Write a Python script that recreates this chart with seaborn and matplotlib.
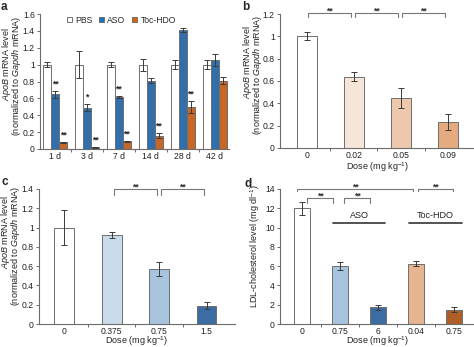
import numpy as np
import pandas as pd
import matplotlib
matplotlib.use("Agg")
import matplotlib.pyplot as plt
import seaborn as sns
from matplotlib.ticker import FuncFormatter, FixedLocator, MultipleLocator
from matplotlib.patches import Patch

# ---------------- data ----------------
days = ["1 d", "3 d", "7 d", "14 d", "28 d", "42 d"]
a_series = ["PBS", "ASO", "Toc-HDO"]
a_pbs = [1.0, 1.0, 1.0, 1.0, 1.0, 1.0]
a_pbs_err = [0.03, 0.16, 0.03, 0.07, 0.05, 0.05]
a_aso = [0.65, 0.49, 0.62, 0.81, 1.41, 1.05]
a_aso_err = [0.04, 0.04, 0.01, 0.03, 0.02, 0.07]
a_toc = [0.08, 0.02, 0.09, 0.16, 0.50, 0.81]
a_toc_err = [0.005, 0.005, 0.005, 0.03, 0.07, 0.04]
a_aso_stars = ["**", "*", "**", "", "", ""]
a_toc_stars = ["**", "**", "**", "**", "**", ""]

b_doses = ["0", "0.02", "0.05", "0.09"]
b_vals = [1.0, 0.64, 0.445, 0.235]
b_err = [0.035, 0.04, 0.09, 0.07]

c_doses = ["0", "0.375", "0.75", "1.5"]
c_vals = [1.0, 0.92, 0.57, 0.19]
c_err = [0.185, 0.03, 0.07, 0.035]

d_groups = ["Saline", "ASO 0.75", "ASO 6", "Toc-HDO 0.04", "Toc-HDO 0.75"]
d_ticklabels = ["0", "0.75", "6", "0.04", "0.75"]
d_vals = [12.0, 6.0, 1.75, 6.25, 1.5]
d_err = [0.7, 0.4, 0.25, 0.25, 0.3]

# ---------------- style ----------------
sns.set_style("ticks")
plt.rcParams["font.family"] = ["Liberation Sans", "DejaVu Sans"]
plt.rcParams["mathtext.fontset"] = "custom"
plt.rcParams["mathtext.rm"] = "Liberation Sans"
plt.rcParams["mathtext.it"] = "Liberation Sans:italic"
FS = 6.2     # tick labels
LFS = 6.5    # axis labels
plt.rcParams["font.size"] = FS

W, H = 474, 347
fig = plt.figure(figsize=(W / 100, H / 100), dpi=100)

SPINE = "#6b6b6b"
EDGE = "#6e6e6e"
ERRC = "#3a3a3a"
TXT = "#222222"


def add_ax(left, top, right, bottom):
    return fig.add_axes([left / W, 1 - bottom / H, (right - left) / W, (bottom - top) / H])


def style_ax(ax, ncat, ylim, ystep):
    sns.despine(ax=ax)
    for s in ("left", "bottom"):
        ax.spines[s].set_color(SPINE)
        ax.spines[s].set_linewidth(0.8)
    ax.set_ylim(*ylim)
    ax.yaxis.set_major_locator(MultipleLocator(ystep))
    ax.yaxis.set_major_formatter(FuncFormatter(lambda v, p: "%g" % round(v, 6)))
    ax.tick_params(axis="y", length=2.2, width=0.7, color=SPINE, pad=1.5, labelsize=FS, labelcolor=TXT)
    ax.set_xticks(range(ncat))
    ax.tick_params(axis="x", which="major", length=0, pad=2.0, labelsize=FS, labelcolor=TXT)
    ax.xaxis.set_minor_locator(FixedLocator([i + 0.5 for i in range(ncat - 1)]))
    ax.tick_params(axis="x", which="minor", length=2.2, width=0.7, color=SPINE)
    ax.set_xlabel("")
    ax.set_ylabel("")


def fig_text(x, y, s, **kw):
    fig.text(x / W, 1 - y / H, s, **kw)


def ylabel2(x1, y1, x2, y2):
    fig_text(x1, y1, "$\\it{ApoB}$ mRNA level", rotation=90, ha="center", va="center",
             fontsize=LFS, color=TXT)
    fig_text(x2, y2, "(normalized to $\\it{Gapdh}$ mRNA)", rotation=90, ha="center",
             va="center", fontsize=LFS, color=TXT)


def bracket(ax, x0, x1, y, drop, label, star_dy):
    ax.plot([x0, x0, x1, x1], [y - drop, y, y, y - drop], color="#777", lw=0.8, clip_on=False)
    ax.text((x0 + x1) / 2, y + star_dy, label, ha="center", va="center", fontsize=6.3,
            fontweight="bold", color="#333", clip_on=False)


XLAB = "Dose (mg kg$^{-1}$)"

# ================= panel a =================
axA = add_ax(40, 14, 229, 149)
dfa = pd.DataFrame({
    "day": days * 3,
    "series": [a_series[0]] * 6 + [a_series[1]] * 6 + [a_series[2]] * 6,
    "val": a_pbs + a_aso + a_toc,
})
a_cols = ["#ffffff", "#1b70bf", "#e0620d"]
sns.barplot(data=dfa, x="day", y="val", hue="series", order=days, hue_order=a_series,
            palette=a_cols, width=0.75, edgecolor=EDGE, linewidth=0.7, ax=axA, legend=False,
            errorbar=None)
errs = [a_pbs_err, a_aso_err, a_toc_err]
vals = [a_pbs, a_aso, a_toc]
bar_conts = list(axA.containers)
for k, cont in enumerate(bar_conts):
    xs = [b.get_x() + b.get_width() / 2 for b in cont]
    axA.errorbar(xs, vals[k], yerr=errs[k], fmt="none", ecolor=ERRC, elinewidth=0.7,
                 capsize=2.2, capthick=0.7)
    if k == 1:
        stars = a_aso_stars
    elif k == 2:
        stars = a_toc_stars
    else:
        stars = [""] * 6
    for x, v, e, s in zip(xs, vals[k], errs[k], stars):
        if s:
            axA.text(x, v + e + 0.08, s, ha="center", va="center", fontsize=6.3,
                     fontweight="bold", color=TXT)
axA.set_xlim(-0.47, 5.45)
style_ax(axA, 6, (0, 1.6), 0.2)
axA.set_xticklabels(days)
ylabel2(6.5, 64, 17, 76)
handles = [Patch(facecolor=c, edgecolor=EDGE, linewidth=0.7) for c in a_cols]
axA.legend(handles, a_series, loc="center", bbox_to_anchor=(0.43, 0.955), ncol=3, frameon=False,
           fontsize=FS, handlelength=0.6, handleheight=0.6, handletextpad=0.35,
           columnspacing=0.8, borderpad=0.1)

# ================= panel b =================
axB = add_ax(280, 14, 474, 148)
b_cols = ["#ffffff", "#fce4d4", "#f8c6a2", "#f4a870"]
dfb = pd.DataFrame({"dose": b_doses, "val": b_vals})
sns.barplot(data=dfb, x="dose", y="val", hue="dose", order=b_doses, hue_order=b_doses,
            palette=b_cols, width=0.42, edgecolor=EDGE, linewidth=0.7, ax=axB, legend=False,
            errorbar=None)
axB.errorbar(range(4), b_vals, yerr=b_err, fmt="none", ecolor=ERRC, elinewidth=0.7,
             capsize=2.2, capthick=0.7)
axB.set_xlim(-0.57, 3.55)
style_ax(axB, 4, (0, 1.2), 0.2)
axB.set_xticklabels(b_doses)
fig_text(377, 167.5, XLAB, ha="center", va="center", fontsize=LFS, color=TXT)
ylabel2(247.5, 62, 258, 75)
for i in range(3):
    bracket(axB, i + 0.03, i + 0.93, 1.21, 0.04, "**", 0.02)

# ================= panel c =================
axC = add_ax(39, 189, 235, 324)
c_cols = ["#ffffff", "#c5dbf0", "#9fc3e6", "#2a6cb4"]
dfc = pd.DataFrame({"dose": c_doses, "val": c_vals})
sns.barplot(data=dfc, x="dose", y="val", hue="dose", order=c_doses, hue_order=c_doses,
            palette=c_cols, width=0.42, edgecolor=EDGE, linewidth=0.7, ax=axC, legend=False,
            errorbar=None)
axC.errorbar(range(4), c_vals, yerr=c_err, fmt="none", ecolor=ERRC, elinewidth=0.7,
             capsize=2.2, capthick=0.7)
axC.set_xlim(-0.53, 3.6)
style_ax(axC, 4, (0, 1.4), 0.2)
axC.set_xticklabels(c_doses)
fig_text(136, 341.5, XLAB, ha="center", va="center", fontsize=LFS, color=TXT)
ylabel2(5.5, 232, 16, 246)
bracket(axC, 1.05, 1.95, 1.4, 0.06, "**", 0.025)
bracket(axC, 2.05, 2.95, 1.4, 0.06, "**", 0.025)

# ================= panel d =================
axD = add_ax(280, 189, 474, 324)
d_cols = ["#ffffff", "#9fc3e6", "#2a6cb4", "#f5b184", "#c55a11"]
dfd = pd.DataFrame({"grp": d_groups, "val": d_vals})
sns.barplot(data=dfd, x="grp", y="val", hue="grp", order=d_groups, hue_order=d_groups,
            palette=d_cols, width=0.42, edgecolor=EDGE, linewidth=0.7, ax=axD, legend=False,
            errorbar=None)
axD.errorbar(range(5), d_vals, yerr=d_err, fmt="none", ecolor=ERRC, elinewidth=0.7,
             capsize=2.2, capthick=0.7)
axD.set_xlim(-0.58, 4.53)
style_ax(axD, 5, (0, 14), 2)
axD.set_xticklabels(d_ticklabels)
fig_text(377, 341.5, XLAB, ha="center", va="center", fontsize=LFS, color=TXT)
fig_text(255, 246, "LDL-cholesterol level (mg dl$^{-1}$)", rotation=90, ha="center",
         va="center", fontsize=LFS, color=TXT)
bracket(axD, -0.13, 2.93, 14.0, 0.25, "**", 0.2)
bracket(axD, 0.13, 0.82, 13.1, 0.5, "**", 0.2)
bracket(axD, 1.1, 1.8, 13.1, 0.5, "**", 0.2)
bracket(axD, 3.05, 3.97, 14.0, 0.25, "**", 0.2)
axD.plot([0.82, 2.18], [10.5, 10.5], color="#444", lw=1.3, clip_on=False)
axD.text(1.5, 11.25, "ASO", ha="center", va="center", fontsize=LFS, color=TXT)
axD.plot([2.82, 4.22], [10.5, 10.5], color="#444", lw=1.3, clip_on=False)
axD.text(3.52, 11.25, "Toc-HDO", ha="center", va="center", fontsize=LFS, color=TXT)

# ---------------- panel letters ----------------
for lab, x, y in [("a", 1, 7), ("b", 242, 7), ("c", 1, 182), ("d", 244, 184)]:
    fig_text(x, y, lab, fontsize=8.5, fontweight="bold", ha="left", va="center")

fig.savefig("out.png", dpi=100)
